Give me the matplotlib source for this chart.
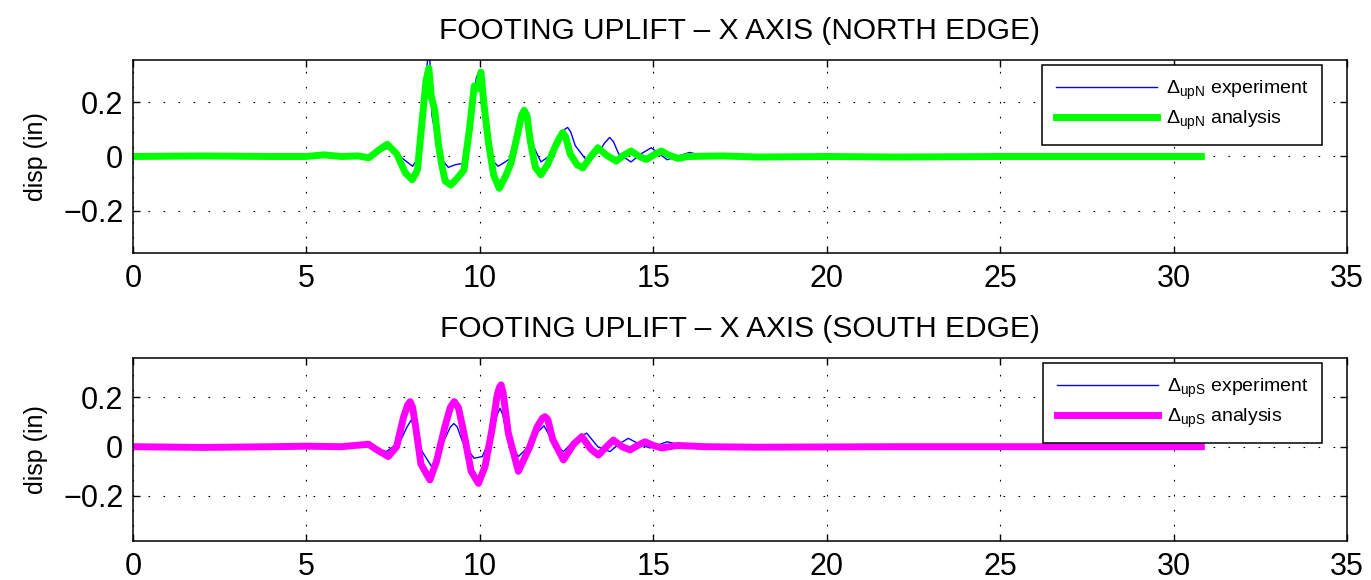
import matplotlib
matplotlib.use('Agg')
import matplotlib.pyplot as plt

plt.rcParams['font.family'] = ['Liberation Sans', 'DejaVu Sans']
plt.rcParams['mathtext.fontset'] = 'custom'
plt.rcParams['mathtext.rm'] = 'Liberation Sans'
plt.rcParams['mathtext.it'] = 'Liberation Sans:italic'

# North edge uplift (in) vs time (s)
north_exp_t = [0, 5, 6.8, 7.1, 7.31, 7.5, 7.7, 8.06, 8.25, 8.4, 8.5, 8.55, 8.62, 8.75, 8.9, 9.09,
               9.3, 9.54, 9.75, 9.9, 10.0, 10.1, 10.25, 10.4, 10.53, 10.85, 11.05, 11.2, 11.28,
               11.38, 11.5, 11.76, 12.1, 12.35, 12.45, 12.53, 12.62, 12.75, 13.11, 13.45, 13.6,
               13.74, 13.85, 14.0, 14.36, 14.65, 14.94, 15.4, 16.05, 16.67, 17.5, 20, 30.8]
north_exp_v = [0, 0, -0.002, 0.015, 0.03, 0.02, 0.0, -0.036, 0.0, 0.25, 0.36, 0.39, 0.15, 0.06,
               -0.01, -0.04, -0.03, -0.025, 0.15, 0.29, 0.32, 0.22, 0.08, -0.02, -0.036, -0.01,
               0.08, 0.15, 0.17, 0.14, 0.05, -0.02, 0.01, 0.08, 0.1, 0.107, 0.09, 0.04, -0.02,
               0.02, 0.05, 0.07, 0.055, 0.01, -0.02, 0.01, 0.032, -0.012, 0.015, -0.005, 0.002,
               0.0, 0.0]

north_ana_t = [0, 2.0, 4.0, 5.0, 5.5, 6.0, 6.5, 6.8, 7.1, 7.33, 7.6, 7.85, 8.05, 8.2, 8.35,
               8.45, 8.53, 8.6, 8.7, 8.8, 8.9, 9.0, 9.16, 9.35, 9.54, 9.7, 9.84, 9.95, 10.03,
               10.12, 10.25, 10.4, 10.56, 10.75, 10.9, 11.1, 11.2, 11.28, 11.36, 11.45, 11.6,
               11.76, 11.95, 12.15, 12.3, 12.39, 12.48, 12.6, 12.8, 12.97, 13.2, 13.4, 13.65,
               13.93, 14.15, 14.36, 14.6, 14.8, 15.0, 15.23, 15.45, 15.71, 16.0, 17, 18, 20, 22,
               25, 28, 30.8]
north_ana_v = [0, 0.002, 0.0, 0.0, 0.006, 0.0, 0.002, -0.005, 0.025, 0.045, 0.01, -0.06, -0.086,
               -0.05, 0.15, 0.28, 0.325, 0.22, 0.17, 0.05, -0.03, -0.09, -0.105, -0.08, -0.05,
               0.1, 0.26, 0.25, 0.31, 0.19, 0.05, -0.07, -0.117, -0.07, -0.024, 0.09, 0.15,
               0.17, 0.15, 0.06, -0.04, -0.067, -0.03, 0.03, 0.07, 0.088, 0.07, 0.01, -0.03,
               -0.042, 0.0, 0.032, 0.005, -0.017, 0.005, 0.02, 0.0, -0.011, 0.005, 0.02, 0.005,
               -0.007, 0.0, 0.002, -0.002, 0.0, -0.002, 0.0, 0.0, 0.0]

# South edge uplift (in) vs time (s)
south_exp_t = [0, 5, 6.8, 7.3, 7.7, 7.9, 8.02, 8.12, 8.25, 8.61, 8.95, 9.15, 9.25, 9.35, 9.5,
               9.83, 10.07, 10.35, 10.5, 10.58, 10.66, 10.8, 11.11, 11.33, 11.6, 11.85, 12.1,
               12.41, 12.75, 13.08, 13.4, 13.75, 14.0, 14.28, 14.6, 14.9, 15.4, 16.0, 17, 18,
               30.8]
south_exp_v = [0, 0, 0.005, -0.02, 0.02, 0.08, 0.108, 0.08, 0.0, -0.081, 0.02, 0.08, 0.094,
               0.08, 0.02, -0.047, -0.04, 0.05, 0.13, 0.156, 0.13, 0.03, -0.04, -0.01, 0.05,
               0.085, 0.02, -0.02, 0.03, 0.055, 0.0, -0.02, 0.01, 0.034, 0.01, -0.005, 0.02,
               0.0, 0.005, 0.0, 0.0]

south_ana_t = [0, 2, 4, 5, 6, 6.79, 7.0, 7.36, 7.6, 7.8, 7.92, 7.99, 8.06, 8.15, 8.3, 8.56,
               8.75, 8.99, 9.15, 9.26, 9.38, 9.54, 9.75, 9.96, 10.15, 10.35, 10.5, 10.56, 10.61,
               10.67, 10.82, 11.11, 11.44, 11.65, 11.8, 11.88, 11.96, 12.1, 12.41, 12.7, 12.94,
               13.2, 13.42, 13.65, 13.85, 14.1, 14.33, 14.55, 14.76, 15.0, 15.24, 15.7, 16.5,
               18, 22, 26, 30.8]
south_ana_v = [0, -0.003, 0.0, 0.002, 0.0, 0.01, -0.01, -0.04, 0.0, 0.12, 0.17, 0.183, 0.16,
               0.08, -0.07, -0.135, -0.06, 0.08, 0.16, 0.183, 0.16, 0.055, -0.1, -0.149, -0.08,
               0.07, 0.21, 0.24, 0.251, 0.22, 0.055, -0.10, 0.0, 0.08, 0.115, 0.122, 0.11, 0.03,
               -0.054, 0.01, 0.041, -0.01, -0.034, 0.0, 0.027, 0.0, -0.013, 0.005, 0.02, 0.005,
               -0.005, 0.005, 0.0, -0.002, 0.0, 0.0, 0.0]

xticks = [0, 5, 10, 15, 20, 25, 30, 35]
yticks = [-0.2, 0, 0.2]

fig = plt.figure(figsize=(13.71, 5.80), dpi=100)
ax1 = fig.add_axes([0.097, 0.5638, 0.8855, 0.3328])
ax2 = fig.add_axes([0.097, 0.0672, 0.8855, 0.3155])


def style(ax, title, ylim):
    ax.set_xlim(0, 35)
    ax.set_ylim(*ylim)
    ax.set_xticks(xticks)
    ax.set_yticks(yticks)
    ax.set_yticklabels(['\u22120.2', '0', '0.2'])
    ax.tick_params(direction='in', length=5, width=1, top=True, right=True, labelsize=22)
    ax.tick_params(axis='x', pad=8)
    ax.tick_params(axis='y', pad=7)
    ax.grid(True, color='k', linestyle=(0, (1.5, 12)), linewidth=0.8)
    for s in ax.spines.values():
        s.set_linewidth(1.1)
    ax.set_ylabel('disp (in)', fontsize=18, labelpad=11)
    ax.set_title(title, fontsize=21.5, pad=15)


ax1.plot(north_exp_t, north_exp_v, color='#0000ff', lw=1.0,
         label=r'$\Delta_{\mathrm{upN}}$ experiment')
ax1.plot(north_ana_t, north_ana_v, color='#00ff00', lw=5, solid_joinstyle='round',
         label=r'$\Delta_{\mathrm{upN}}$ analysis')
style(ax1, 'FOOTING UPLIFT \u2013 X AXIS (NORTH EDGE)', (-0.355, 0.355))

ax2.plot(south_exp_t, south_exp_v, color='#0000ff', lw=1.0,
         label=r'$\Delta_{\mathrm{upS}}$ experiment')
ax2.plot(south_ana_t, south_ana_v, color='#ff00ff', lw=5, solid_joinstyle='round',
         label=r'$\Delta_{\mathrm{upS}}$ analysis')
style(ax2, 'FOOTING UPLIFT \u2013 X AXIS (SOUTH EDGE)', (-0.383, 0.36))

for ax, y in ((ax1, 0.974), (ax2, 0.973)):
    leg = ax.legend(loc='upper right', bbox_to_anchor=(0.9794, y), borderaxespad=0,
                    fontsize=14, handlelength=5.2, handletextpad=0.46, borderpad=0.7,
                    labelspacing=0.35, fancybox=False, framealpha=1, edgecolor='k')
    leg.get_frame().set_linewidth(1.1)

fig.savefig('out.png', dpi=100)
